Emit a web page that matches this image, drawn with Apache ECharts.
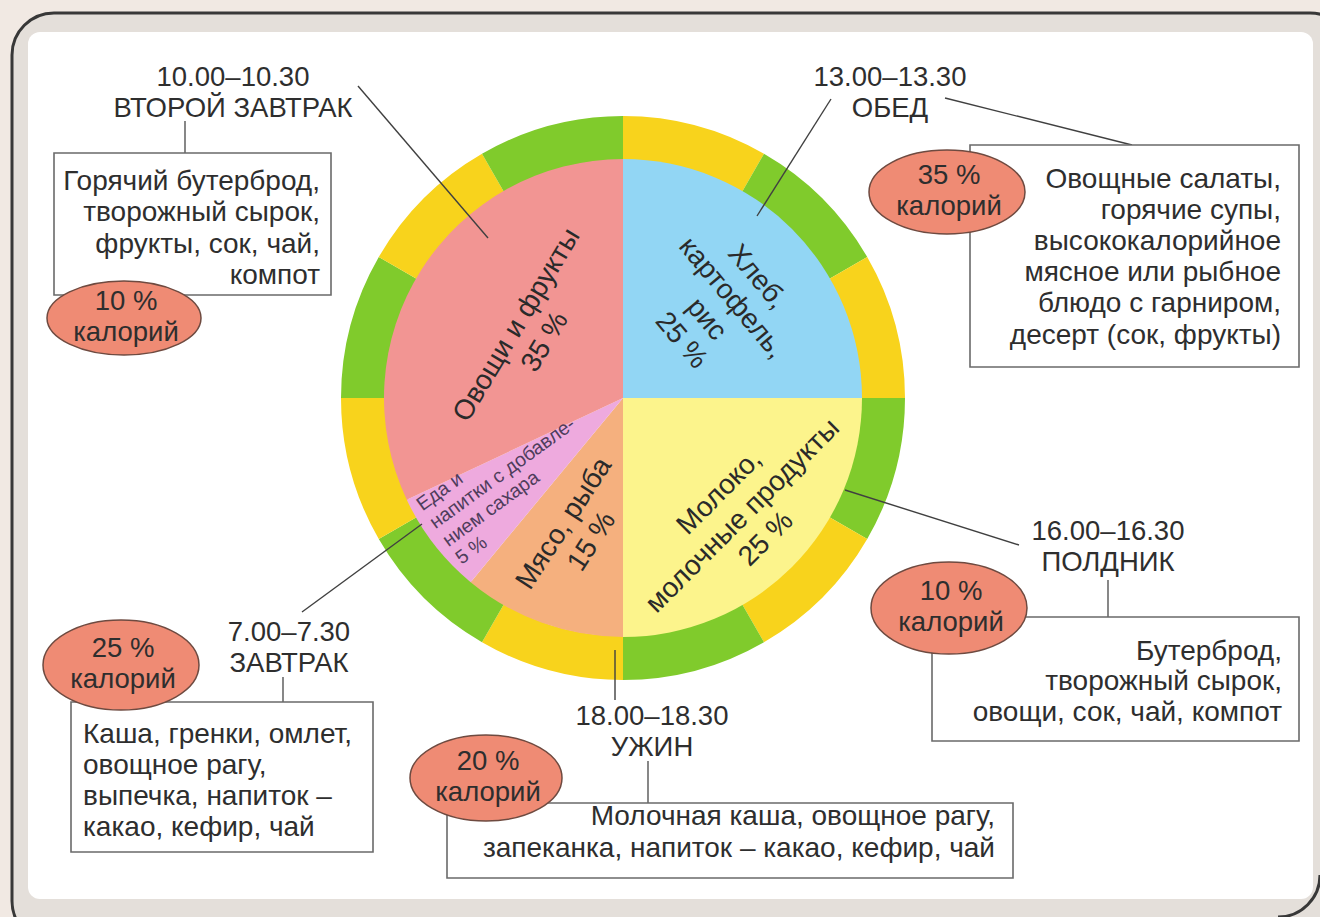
<!DOCTYPE html>
<html>
<head>
<meta charset="utf-8">
<script src="https://cdn.jsdelivr.net/npm/echarts@6/dist/echarts.min.js"></script>
<style>
  html, body { margin: 0; padding: 0; background: #f1e9e3; }
  #main { width: 1320px; height: 917px; }
</style>
</head>
<body>
<div id="main"></div>
<script>
// данные круга: доли читаются по углам секторов, проценты - по подписям
var sliceNames = ['Хлеб, картофель, рис', 'Молоко, молочные продукты', 'Мясо, рыба', 'Еда и напитки с добавлением сахара', 'Овощи и фрукты'];
var sliceLines = ['Хлеб,\nкартофель,\nрис', 'Молоко,\nмолочные продукты', 'Мясо, рыба', 'Еда и\nнапитки с добавле-\nнием сахара', 'Овощи и фрукты'];
var slicePercent = [25, 25, 15, 5, 35];
var sliceShare = [25, 25, 11, 7, 32];
var sliceColors = ['#92d6f4', '#fcf48c', '#f5b07e', '#eeaade', '#f29593'];

// внешнее кольцо: 12 одинаковых отрезков
var ringValues = [1, 1, 1, 1, 1, 1, 1, 1, 1, 1, 1, 1];
var ringColors = ['#f8d31c', '#80cb2c'];

// приёмы пищи
var mealTimes = ['10.00–10.30', '13.00–13.30', '7.00–7.30', '16.00–16.30', '18.00–18.30'];
var mealNames = ['ВТОРОЙ ЗАВТРАК', 'ОБЕД', 'ЗАВТРАК', 'ПОЛДНИК', 'УЖИН'];
var mealCalories = [10, 35, 25, 10, 20];
var mealMenus = [
    ['Горячий бутерброд,', 'творожный сырок,', 'фрукты, сок, чай,', 'компот'],
    ['Овощные салаты,', 'горячие супы,', 'высококалорийное', 'мясное или рыбное', 'блюдо с гарниром,', 'десерт (сок, фрукты)'],
    ['Каша, гренки, омлет,', 'овощное рагу,', 'выпечка, напиток –', 'какао, кефир, чай'],
    ['Бутерброд,', 'творожный сырок,', 'овощи, сок, чай, компот'],
    ['Молочная каша, овощное рагу,', 'запеканка, напиток – какао, кефир, чай']
];

// раскладка (положения элементов)
var pieCenter = [623, 398];
var headerPos = [[233, 91.5], [890, 91.5], [289, 647], [1108, 545.5], [652, 731]];
var boxRect = [[54, 153, 277, 142], [970, 145, 329, 222], [71, 702, 302, 150], [932, 617, 367, 124], [447, 803, 566, 75]];
var menuPos = [[320, 227.5, 'right', 31.6], [1281, 256, 'right', 31.2], [83, 780, 'left', 31.3], [1282, 680.5, 'right', 30.5], [995, 831, 'right', 32]];
var ellipsePos = [[124, 318, 77, 37], [947, 192, 78, 42], [121, 665, 78, 45], [949, 608, 78, 46], [486, 778, 76, 43]];
var connectors = [[185, 121, 185, 153], [283, 677, 283, 702], [1108, 580, 1108, 617], [648, 761, 648, 803]];
var leaders = [[358, 86, 488, 238], [831, 99, 757, 216], [945, 98, 1132, 145], [1019, 545, 845, 490], [615, 650, 615, 700], [302, 612, 422, 524]];
var labelPlace = [
    { x: 720, y: 308, rotate: -50, align: 'center', verticalAlign: 'middle' },
    { x: 742, y: 515, rotate: 45, align: 'center', verticalAlign: 'middle' },
    { x: 577, y: 532, rotate: 57, align: 'center', verticalAlign: 'middle' },
    { x: 412, y: 497, rotate: 36, align: 'left', verticalAlign: 'top' },
    { x: 530, y: 333, rotate: 59, align: 'center', verticalAlign: 'middle' }
];

var FONT = '"Liberation Sans", Arial, sans-serif';
var TEXT = '#2e2e2e';

function buildGraphic() {
    var g = [];
    // рамка
    g.push({ type: 'rect', z: 0, shape: { x: 12, y: 13, width: 1340, height: 930, r: 42 },
        style: { fill: '#e4dfda', stroke: '#383838', lineWidth: 3 } });
    g.push({ type: 'rect', z: 0, shape: { x: 28, y: 32, width: 1285, height: 867, r: 12 },
        style: { fill: '#ffffff' } });
    g.push({ type: 'arc', z: 1, shape: { cx: 1278, cy: 875, r: 42, startAngle: 0, endAngle: Math.PI / 2 },
        style: { fill: 'none', stroke: '#383838', lineWidth: 3 } });

    for (var i = 0; i < leaders.length; i++) {
        var l = leaders[i];
        g.push({ type: 'line', z: 10, shape: { x1: l[0], y1: l[1], x2: l[2], y2: l[3] },
            style: { stroke: '#404040', lineWidth: 1.4 } });
    }
    for (var i = 0; i < connectors.length; i++) {
        var c = connectors[i];
        g.push({ type: 'line', z: 10, shape: { x1: c[0], y1: c[1], x2: c[2], y2: c[3] },
            style: { stroke: '#555555', lineWidth: 1.4 } });
    }

    for (var i = 0; i < mealNames.length; i++) {
        g.push({ type: 'text', z: 10, x: headerPos[i][0], y: headerPos[i][1],
            style: { text: mealTimes[i] + '\n' + mealNames[i], font: '27.5px ' + FONT, fill: TEXT,
                align: 'center', verticalAlign: 'middle', lineHeight: 31 } });

        var b = boxRect[i];
        g.push({ type: 'rect', z: 10, shape: { x: b[0], y: b[1], width: b[2], height: b[3] },
            style: { fill: '#ffffff', stroke: '#6a6a6a', lineWidth: 1.6 } });

        var m = menuPos[i];
        g.push({ type: 'text', z: 11, x: m[0], y: m[1],
            style: { text: mealMenus[i].join('\n'), font: '28px ' + FONT, fill: TEXT,
                align: m[2], verticalAlign: 'middle', lineHeight: m[3] } });

        var e = ellipsePos[i];
        g.push({ type: 'ellipse', z: 12, shape: { cx: e[0], cy: e[1], rx: e[2], ry: e[3] },
            style: { fill: '#ef8b74', stroke: '#6e4a40', lineWidth: 1.5 } });
        g.push({ type: 'text', z: 13, x: e[0] + 2, y: e[1] - 2,
            style: { text: mealCalories[i] + ' %\nкалорий', font: '27.5px ' + FONT, fill: TEXT,
                align: 'center', verticalAlign: 'middle', lineHeight: 31 } });
    }
    return g;
}

var pieData = sliceNames.map(function (name, i) {
    var item = { name: name, value: sliceShare[i], itemStyle: { color: sliceColors[i] } };
    if (i === 3) {
        item.label = { fontSize: 19.5, lineHeight: 22, color: '#4f3d5c', align: 'left' };
    }
    return item;
});

var ringData = ringValues.map(function (v, i) {
    return { value: v, itemStyle: { color: ringColors[i % 2] } };
});

var chart = echarts.init(document.getElementById('main'), null, { renderer: 'svg' });
chart.setOption({
    animation: false,
    graphic: buildGraphic(),
    series: [
        {
            type: 'pie',
            z: 5,
            silent: true,
            center: pieCenter,
            radius: [0, 239],
            startAngle: 90,
            clockwise: true,
            data: pieData,
            itemStyle: { borderWidth: 0 },
            label: {
                show: true,
                position: 'inside',
                fontFamily: FONT,
                fontSize: 28,
                lineHeight: 33,
                color: '#2a2a2a',
                formatter: function (p) {
                    return sliceLines[p.dataIndex] + '\n' + slicePercent[p.dataIndex] + ' %';
                }
            },
            labelLine: { show: false },
            labelLayout: function (params) {
                return labelPlace[params.dataIndex];
            }
        },
        {
            type: 'pie',
            z: 4,
            silent: true,
            center: pieCenter,
            radius: [238, 282],
            startAngle: 90,
            clockwise: true,
            data: ringData,
            itemStyle: { borderWidth: 0 },
            label: { show: false },
            labelLine: { show: false }
        }
    ]
});
</script>
</body>
</html>
